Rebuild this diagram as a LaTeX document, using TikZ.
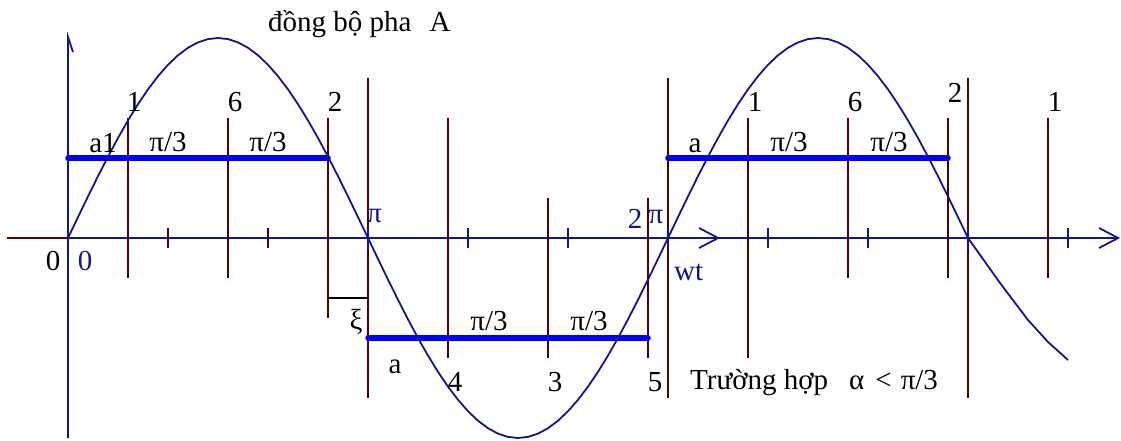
\documentclass[tikz,border=0pt]{standalone}
\usepackage{fontspec}
\setmainfont{Liberation Serif}
\usetikzlibrary{arrows.meta}
\definecolor{navy}{RGB}{20,20,140}
\definecolor{brn}{RGB}{85,0,0}
\definecolor{thickblue}{RGB}{0,0,255}
\tikzset{
  grid line/.style={draw=brn, line width=1.8pt},
  axis line/.style={draw=navy, line width=1.8pt},
  tick line/.style={draw=navy, line width=1.6pt},
  wave/.style={draw=navy, line width=1.8pt, line join=round},
  pulse/.style={draw=thickblue, line width=5.5pt, line cap=round},
  lbl/.style={inner sep=0pt, anchor=base, font=\fontsize{29}{34}\selectfont},
  blbl/.style={lbl, text=navy},
  axarrow/.style={-{Straight Barb[length=19pt,width=20pt,line width=1.8pt]}}
}
\begin{document}
\begin{tikzpicture}[x=1pt,y=-1pt]
\useasboundingbox (0,0) rectangle (1121,441);
% brown vertical lines
\foreach \x/\a/\b in {128/118/278,228/118/278,328/118/318,368/78/398,448/118/358,
  548/198/358,648/198/358,668/78/398,748/118/358,848/118/278,948/118/278,968/78/398,1048/118/278}
  \draw[grid line] (\x,\a) -- (\x,\b);
% xi marker
\draw[black, line width=1.4pt] (328,298) -- (368,298);
% left brown part of axis
\draw[grid line] (7,238) -- (68,238);
% ticks
\foreach \x in {168,268} \draw[grid line] (\x,228) -- (\x,248);
\foreach \x in {368,468,568,668,768,868,968,1068} \draw[tick line] (\x,228) -- (\x,248);
% axes
\draw[axis line] (68,438) -- (68,37) -- (73,52);
\draw[axis line, axarrow] (68,238) -- (720,238);
\draw[axis line, axarrow] (700,238) -- (1120,238);
% thick pulses
\draw[pulse] (68,158) -- (328,158);
\draw[pulse] (368,338) -- (648,338);
\draw[pulse] (668,158) -- (948,158);
% waveform
\draw[wave] plot[domain=68:968, samples=91] (\x, {238-200*sin(0.6*(\x-68))})
  -- (1000,283) -- (1028,320) -- (1048,342) -- (1068,360);
% labels
\node[lbl, anchor=base west] (title) at (268,32) {đồng bộ pha\hspace{18pt}A};
\node[lbl] (n1a) at (134,112) {1};
\node[lbl] (n6a) at (235,112) {6};
\node[lbl] (n2a) at (335,112) {2};
\node[lbl] (n1b) at (755,112) {1};
\node[lbl] (n6b) at (855,112) {6};
\node[lbl] (n2b) at (955,103) {2};
\node[lbl] (n1c) at (1055,112) {1};
\node[lbl] (a1) at (103,152) {a1};
\node[lbl] (p1) at (168,151) {π/3};
\node[lbl] (p2) at (268,151) {π/3};
\node[lbl] (ar) at (695,152) {a};
\node[lbl] (p3) at (789,151) {π/3};
\node[lbl] (p4) at (889,151) {π/3};
\node[lbl] (zb) at (53,270) {0};
\node[blbl] (zn) at (85,270) {0};
\node[blbl, anchor=base west] (pi) at (367,222) {π};
\node[blbl] (two) at (635,228) {2};
\node[blbl] (pi2) at (656,223) {π};
\node[blbl, anchor=base west] (wt) at (674,280) {wt};
\node[lbl, anchor=center] (xi) at (356,322) {ξ};
\node[lbl] (p5) at (489,330) {π/3};
\node[lbl] (p6) at (589,330) {π/3};
\node[lbl] (al) at (395,373) {a};
\node[lbl] (n4) at (455,391) {4};
\node[lbl] (n3) at (555,391) {3};
\node[lbl] (n5) at (655,391) {5};
\node[lbl, anchor=base west] (case) at (690,389) {Trường hợp\hspace{21pt}α\hspace{11pt}<\hspace{9pt}π/3};
\end{tikzpicture}
\end{document}
